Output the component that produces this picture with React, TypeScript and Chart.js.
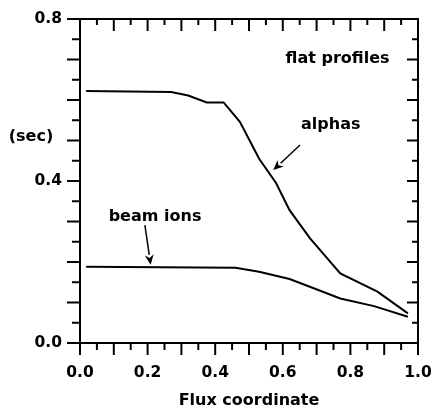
import React, { useEffect, useRef } from 'react';
import { Chart, registerables } from 'chart.js';

Chart.register(...registerables);

// ---- data ----
const alphaX = [0.018, 0.27, 0.32, 0.375, 0.425, 0.473, 0.53, 0.58, 0.62, 0.68, 0.77, 0.88, 0.97];
const alphaY = [0.622, 0.62, 0.611, 0.594, 0.594, 0.546, 0.455, 0.395, 0.328, 0.259, 0.172, 0.127, 0.073];

const beamX = [0.018, 0.46, 0.53, 0.62, 0.68, 0.77, 0.87, 0.97];
const beamY = [0.188, 0.186, 0.176, 0.158, 0.139, 0.11, 0.091, 0.065];

const xTickLabels = ['0.0', '0.2', '0.4', '0.6', '0.8', '1.0'];
const yTickLabels = ['0.0', '0.4', '0.8'];
const minorStep = 0.05;

const xTitle = 'Flux coordinate';
const yTitle = '(sec)';

// annotations in data units
const labelFlat = { text: 'flat profiles', x: 0.762, y: 0.701 };
const labelAlpha = { text: 'alphas', x: 0.742, y: 0.538 };
const labelBeam = { text: 'beam ions', x: 0.222, y: 0.312 };
const arrowAlpha = { x0: 0.651, y0: 0.489, x1: 0.572, y1: 0.427 };
const arrowBeam = { x0: 0.192, y0: 0.291, x1: 0.209, y1: 0.193 };

const FONT = 'DejaVu Sans';

const framePlugin = {
  id: 'frameTicks',
  afterDatasetsDraw(chart: any) {
    const { ctx, chartArea, scales } = chart;
    const { left, right, top, bottom } = chartArea;
    const xs = scales.x;
    const ys = scales.y;
    ctx.save();
    ctx.strokeStyle = '#000';
    ctx.fillStyle = '#000';
    ctx.lineWidth = 2;
    ctx.lineCap = 'butt';
    ctx.strokeRect(left, top, right - left, bottom - top);

    const line = (a: number, b: number, c: number, d: number) => {
      ctx.beginPath();
      ctx.moveTo(a, b);
      ctx.lineTo(c, d);
      ctx.stroke();
    };

    const nx = Math.round((xs.max - xs.min) / minorStep);
    for (let i = 0; i <= nx; i++) {
      const px = xs.getPixelForValue(xs.min + i * minorStep);
      const major = i % 2 === 0;
      line(px, bottom, px, bottom + (major ? 12 : 7));
      line(px, top, px, top + (major ? 12 : 6));
    }
    const ny = Math.round((ys.max - ys.min) / minorStep);
    for (let i = 0; i <= ny; i++) {
      const py = ys.getPixelForValue(ys.min + i * minorStep);
      const major = i % 2 === 0;
      line(left - (major ? 13 : 8), py, left, py);
      line(right - (major ? 11 : 6), py, right, py);
    }

    // annotations
    ctx.font = `bold 16px "${FONT}"`;
    ctx.textAlign = 'center';
    ctx.textBaseline = 'middle';
    for (const l of [labelFlat, labelAlpha, labelBeam]) {
      ctx.fillText(l.text, xs.getPixelForValue(l.x), ys.getPixelForValue(l.y));
    }
    const arrow = (a: any) => {
      const x0 = xs.getPixelForValue(a.x0);
      const y0 = ys.getPixelForValue(a.y0);
      const x1 = xs.getPixelForValue(a.x1);
      const y1 = ys.getPixelForValue(a.y1);
      const ang = Math.atan2(y1 - y0, x1 - x0);
      const hl = 10;
      const hw = 4.5;
      const bx = x1 - hl * Math.cos(ang);
      const by = y1 - hl * Math.sin(ang);
      ctx.lineWidth = 1.5;
      line(x0, y0, bx, by);
      ctx.beginPath();
      ctx.moveTo(x1, y1);
      ctx.lineTo(bx + hw * Math.sin(ang), by - hw * Math.cos(ang));
      ctx.lineTo(x1 - (hl - 3) * Math.cos(ang), y1 - (hl - 3) * Math.sin(ang));
      ctx.lineTo(bx - hw * Math.sin(ang), by + hw * Math.cos(ang));
      ctx.closePath();
      ctx.fill();
    };
    arrow(arrowAlpha);
    arrow(arrowBeam);

    // y title (horizontal)
    ctx.font = `bold 16px "${FONT}"`;
    ctx.textAlign = 'center';
    ctx.fillText(yTitle, left - 49, ys.getPixelForValue(0.509));
    ctx.restore();
  },
};

const zeroPadding = (s: any) => {
  s.paddingTop = 0;
  s.paddingBottom = 0;
  s.paddingLeft = 0;
  s.paddingRight = 0;
};

export default function App() {
  const ref = useRef<HTMLCanvasElement>(null);
  useEffect(() => {
    if (!ref.current) return;
    const chart = new Chart(ref.current, {
      type: 'line',
      data: {
        datasets: [
          {
            label: 'alphas',
            data: alphaX.map((x, i) => ({ x, y: alphaY[i] })),
            borderColor: '#000',
            borderWidth: 2,
            pointRadius: 0,
            tension: 0,
            fill: false,
          },
          {
            label: 'beam ions',
            data: beamX.map((x, i) => ({ x, y: beamY[i] })),
            borderColor: '#000',
            borderWidth: 2,
            pointRadius: 0,
            tension: 0,
            fill: false,
          },
        ],
      },
      options: {
        responsive: false,
        animation: false,
        events: [],
        layout: { padding: { top: 19, right: 14, left: 0, bottom: 0 } },
        plugins: { legend: { display: false }, tooltip: { enabled: false } },
        scales: {
          x: {
            type: 'linear',
            min: 0,
            max: 1,
            grid: { display: false, drawTicks: false },
            border: { display: false },
            afterBuildTicks: (s: any) => {
              s.ticks = xTickLabels.map((t) => ({ value: parseFloat(t) }));
            },
            afterFit: (s: any) => {
              s.height = 69;
              zeroPadding(s);
            },
            ticks: {
              autoSkip: false,
              maxRotation: 0,
              padding: 21,
              color: '#000',
              font: { family: FONT, weight: 'bold', size: 15.5 },
              callback: (v: any) => Number(v).toFixed(1),
            },
            title: {
              display: true,
              text: xTitle,
              color: '#000',
              font: { family: FONT, weight: 'bold', size: 16 },
              padding: { top: 2, bottom: 2 },
            },
          },
          y: {
            type: 'linear',
            min: 0,
            max: 0.8,
            grid: { display: false, drawTicks: false },
            border: { display: false },
            afterBuildTicks: (s: any) => {
              s.ticks = yTickLabels.map((t) => ({ value: parseFloat(t) }));
            },
            afterFit: (s: any) => {
              s.width = 80;
              zeroPadding(s);
            },
            ticks: {
              autoSkip: false,
              padding: 18,
              color: '#000',
              font: { family: FONT, weight: 'bold', size: 15.5 },
              callback: (v: any) => Number(v).toFixed(1),
            },
          },
        },
      },
      plugins: [framePlugin],
    } as any);
    return () => chart.destroy();
  }, []);
  return (
    <canvas
      ref={ref}
      width={432}
      height={412}
      style={{ position: 'absolute', left: 0, top: 0, width: 432, height: 412, background: '#fff' }}
    />
  );
}
